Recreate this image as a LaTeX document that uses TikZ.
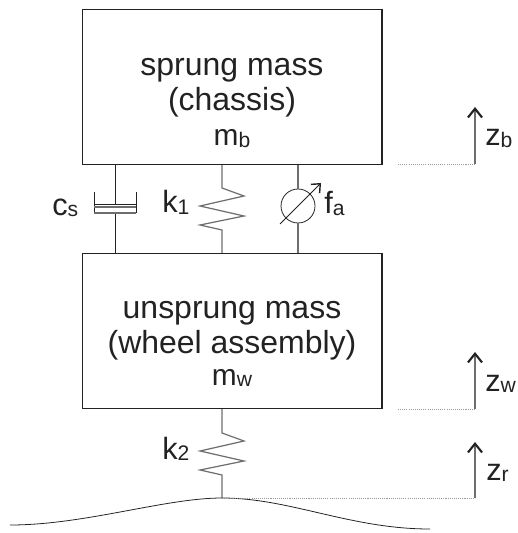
\documentclass[tikz,border=0pt]{standalone}
\usepackage{fontspec}
\setmainfont{Liberation Sans}
\usetikzlibrary{positioning, arrows.meta, calc}
\definecolor{linegray}{HTML}{6e6e6e}
\definecolor{boxblack}{HTML}{222222}
\newcommand{\lowidx}[1]{\raisebox{-1pt}{\fontsize{12}{12}\selectfont #1}}

\begin{document}
\begin{tikzpicture}[x=0.02cm, y=-0.02cm, text=boxblack]

    % --- styles ---
    \tikzset{
        massblock/.style={rectangle, draw=boxblack, line width=0.6pt, minimum width=6cm, minimum height=3.1cm},
        masslabel/.style={align=center, inner sep=0pt, font=\fontsize{18.2}{20}\selectfont},
        link/.style={draw=linegray, line width=0.7pt},
        thinlink/.style={draw=boxblack, line width=0.45pt},
        reflevel/.style={draw=linegray!70, line width=0.5pt, dash pattern=on 0.6pt off 0.6pt},
        motion/.style={draw=linegray, line width=1.1pt, arrows={-Straight Barb[length=5pt, width=8pt, line width=1.2pt, color=boxblack]}},
        symbol/.style={font=\fontsize{17.5}{20}\selectfont, inner sep=0pt, anchor=base west}
    }
    \useasboundingbox (0,0) rectangle (517,533);

    % --- masses ---
    \node[massblock] (sprung)   at (232,87)  {};
    \node[massblock] (unsprung) at (232,331) {};
    \node[masslabel] (sprungtext)   at (232,103) {sprung mass\\(chassis)\\{\fontsize{17}{20}\selectfont m\lowidx{b}}};
    \node[masslabel] (unsprungtext) at (232,344) {unsprung mass\\(wheel assembly)\\[-2pt]{\fontsize{17}{20}\selectfont m\lowidx{w}}};

    % --- fixed points ---
    \coordinate (damper)  at (115,206);
    \coordinate (springa) at (222,206);
    \coordinate (springb) at (222,451);
    \coordinate (crest)   at (222,498);
    \coordinate (roadl)   at (10,525);
    \coordinate (roadr)   at (430,529);

    % --- damper ---
    \draw[thinlink] (sprung.south -| damper) -- ($(damper)+(0,-2)$);
    \draw[thinlink] ($(damper)+(-21,-14)$) -- ($(damper)+(-21,7)$);
    \draw[thinlink] ($(damper)+(21,-14)$) -- ($(damper)+(21,7)$);
    \draw[link] ($(damper)+(-21,7)$) -- ($(damper)+(21,7)$);
    \draw[thinlink] ($(damper)+(-21,-2)$) -- ($(damper)+(21,-2)$);
    \draw[link] ($(damper)+(-21,1)$) -- ($(damper)+(21,1)$);
    \draw[thinlink] ($(damper)+(0,8)$) -- (unsprung.north -| damper);
    \node[symbol] (cs) at (52,215) {c\lowidx{s}};

    % --- spring k1 ---
    \draw[link] (sprung.south -| springa) -- ($(springa)+(0,-18)$) -- ($(springa)+(22,-10)$) -- ($(springa)+(-22,0)$)
        -- ($(springa)+(22,10)$) -- ($(springa)+(-22,19)$) -- ($(springa)+(0,24)$) -- (unsprung.north -| springa);
    \node[symbol] (kone) at (162,213) {k\lowidx{1}};

    % --- actuator ---
    \node[circle, draw=boxblack, line width=0.45pt, minimum size=0.68cm, inner sep=0pt] (actuator) at (298,206) {};
    \draw[link] (sprung.south -| actuator) -- (actuator.north);
    \draw[link] (actuator.south) -- (unsprung.north -| actuator);
    \coordinate (fatail) at (280,224);
    \coordinate (fahead) at (321,183);
    \draw[thinlink, arrows={-Straight Barb[length=4pt, width=7pt, line width=0.8pt]}] (fatail) -- (fahead);
    \node[symbol] (fa) at (324,214) {f\lowidx{a}};

    % --- spring k2 ---
    \draw[link] (unsprung.south -| springb) -- ($(springb)+(0,-18)$) -- ($(springb)+(22,-10)$) -- ($(springb)+(-22,0)$)
        -- ($(springb)+(22,10)$) -- ($(springb)+(-22,19)$) -- ($(springb)+(0,24)$) -- (crest);
    \node[symbol] (ktwo) at (162,459) {k\lowidx{2}};

    % --- road ---
    \draw[thinlink] (roadl) .. controls (85,525) and (165,498) .. (crest) .. controls (290,498) and (350,529) .. (roadr);

    % --- displacements ---
    \coordinate (bstart) at (398,164);
    \coordinate (bfoot)  at (475,164);
    \coordinate (btop)   at (475,107);
    \coordinate (wstart) at (398,409);
    \coordinate (wfoot)  at (475,409);
    \coordinate (wtop)   at (475,352);
    \coordinate (rfoot)  at (475,498);
    \coordinate (rtop)   at (475,442);

    \draw[reflevel] (bstart) -- (bfoot);
    \draw[motion] (bfoot) -- (btop);
    \node[symbol] (zb) at (485,146) {z\lowidx{b}};

    \draw[reflevel] (wstart) -- (wfoot);
    \draw[motion] (wfoot) -- (wtop);
    \node[symbol] (zw) at (485,391) {z\lowidx{w}};

    \draw[reflevel] (crest) -- (rfoot);
    \draw[motion] (rfoot) -- (rtop);
    \node[symbol] (zr) at (486,480) {z\lowidx{r}};

\end{tikzpicture}
\end{document}
